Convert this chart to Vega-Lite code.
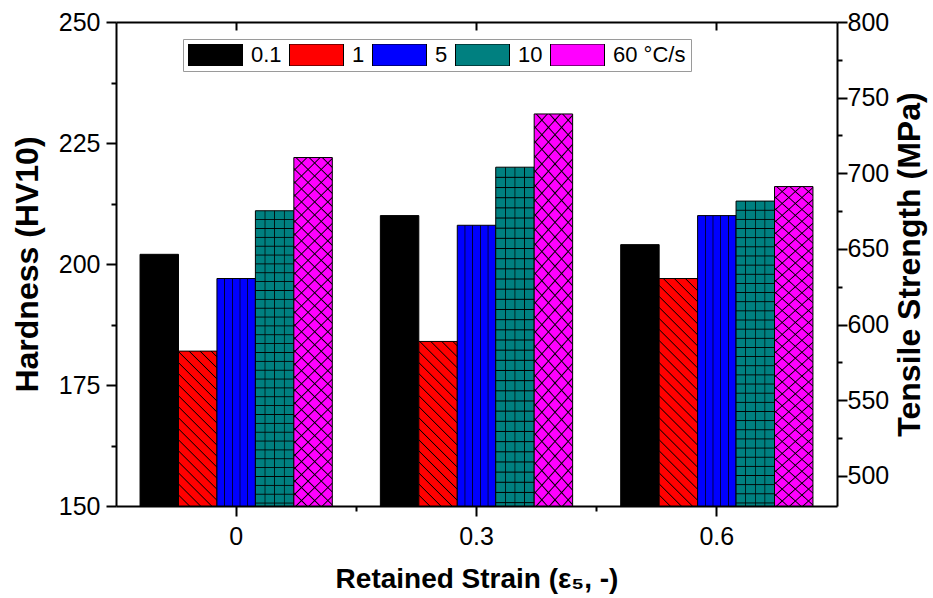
{
"$schema":"https://vega.github.io/schema/vega-lite/v6.json",
"width":721,"height":484,
"autosize":{"type":"none"},
"padding":{"left":116,"top":22,"right":96,"bottom":92},
"background":"white",
"config":{"view":{"stroke":null},"axis":{"grid":false,"labelFont":"Liberation Sans","labelFontSize":25,"labelColor":"#000","titleFont":"Liberation Sans","titleFontSize":32,"titleFontWeight":"bold","titleColor":"#000","domainColor":"#000","domainWidth":2,"tickColor":"#000","tickWidth":2}},
"data":{"values":[
{"strain":"0","rate":"0.1","hv":202},{"strain":"0","rate":"1","hv":182},{"strain":"0","rate":"5","hv":197},{"strain":"0","rate":"10","hv":211},{"strain":"0","rate":"60 °C/s","hv":222},
{"strain":"0.3","rate":"0.1","hv":210},{"strain":"0.3","rate":"1","hv":184},{"strain":"0.3","rate":"5","hv":208},{"strain":"0.3","rate":"10","hv":220},{"strain":"0.3","rate":"60 °C/s","hv":231},
{"strain":"0.6","rate":"0.1","hv":204},{"strain":"0.6","rate":"1","hv":197},{"strain":"0.6","rate":"5","hv":210},{"strain":"0.6","rate":"10","hv":213},{"strain":"0.6","rate":"60 °C/s","hv":216}
]},
"layer":[
{
"encoding":{
"x":{"field":"strain","type":"nominal","sort":["0","0.3","0.6"],"scale":{"paddingInner":0.2,"paddingOuter":0.1},"axis":{"title":"Retained Strain (ε₅, -)","labelAngle":0,"tickSize":10,"labelPadding":8,"titleFontSize":28,"titlePadding":16}},
"xOffset":{"field":"rate","type":"nominal","sort":["0.1","1","5","10","60 °C/s"],"scale":{"domain":["0.1","1","5","10","60 °C/s"]}},
"y":{"field":"hv","type":"quantitative","scale":{"domain":[150,250]},"axis":{"title":"Hardness (HV10)","values":[150,162.5,175,187.5,200,212.5,225,237.5,250],"labelExpr":"datum.value % 25 === 0 ? datum.label : ''","tickSize":{"condition":{"test":"datum.value % 25 === 0","value":10},"value":5},"labelPadding":6,"titlePadding":14}},
"y2":{"datum":150}
},
"layer":[
{"mark":{"type":"bar","stroke":"#000","strokeWidth":1},
"encoding":{"color":{"field":"rate","type":"nominal","sort":["0.1","1","5","10","60 °C/s"],"scale":{"domain":["0.1","1","5","10","60 °C/s"],"range":["#000000","#ff0000","#0000ff","#008080","#ff00ff"]},
"legend":{"orient":"none","legendX":67,"legendY":17,"direction":"horizontal","title":null,"symbolType":"M-1,-0.4074L1,-0.4074L1,0.4074L-1,0.4074Z","symbolSize":2916,"symbolStrokeColor":"#000","symbolStrokeWidth":1,"symbolOpacity":1,"symbolOffset":0,"clipHeight":22,"labelFont":"Liberation Sans","labelFontSize":22,"labelColor":"#000","labelOffset":8,"columnPadding":7,"padding":5,"strokeColor":"#9a9a9a","fillColor":"#ffffff"}}}},
{"transform":[{"filter":"datum.rate === '5'"}],
"mark":{"type":"bar","fill":{"gradient":"linear","x1":0,"y1":0,"x2":1,"y2":0,"stops":[{"offset":0.18,"color":"#0000"},{"offset":0.2,"color":"#000"},{"offset":0.22,"color":"#0000"},{"offset":0.38,"color":"#0000"},{"offset":0.4,"color":"#000"},{"offset":0.42,"color":"#0000"},{"offset":0.58,"color":"#0000"},{"offset":0.6,"color":"#000"},{"offset":0.62,"color":"#0000"},{"offset":0.78,"color":"#0000"},{"offset":0.8,"color":"#000"},{"offset":0.82,"color":"#0000"}]}}},
{"transform":[{"filter":"datum.rate === '10'"}],
"mark":{"type":"bar","fill":{"gradient":"linear","x1":0,"y1":0,"x2":1,"y2":0,"stops":[{"offset":0.23,"color":"#0000"},{"offset":0.25,"color":"#000"},{"offset":0.27,"color":"#0000"},{"offset":0.48,"color":"#0000"},{"offset":0.5,"color":"#000"},{"offset":0.52,"color":"#0000"},{"offset":0.73,"color":"#0000"},{"offset":0.75,"color":"#000"},{"offset":0.77,"color":"#0000"}]}}},
{"transform":[{"filter":"datum.rate === '10'"}],
"mark":{"type":"bar","fill":{"gradient":"linear","x1":0,"y1":0,"x2":0,"y2":1,"stops":[
{"offset":0.027,"color":"#0000"},{"offset":0.03,"color":"#000"},{"offset":0.033,"color":"#0000"},
{"offset":0.057,"color":"#0000"},{"offset":0.06,"color":"#000"},{"offset":0.063,"color":"#0000"},
{"offset":0.087,"color":"#0000"},{"offset":0.09,"color":"#000"},{"offset":0.093,"color":"#0000"},
{"offset":0.117,"color":"#0000"},{"offset":0.12,"color":"#000"},{"offset":0.123,"color":"#0000"},
{"offset":0.147,"color":"#0000"},{"offset":0.15,"color":"#000"},{"offset":0.153,"color":"#0000"},
{"offset":0.177,"color":"#0000"},{"offset":0.18,"color":"#000"},{"offset":0.183,"color":"#0000"},
{"offset":0.207,"color":"#0000"},{"offset":0.21,"color":"#000"},{"offset":0.213,"color":"#0000"},
{"offset":0.237,"color":"#0000"},{"offset":0.24,"color":"#000"},{"offset":0.243,"color":"#0000"},
{"offset":0.267,"color":"#0000"},{"offset":0.27,"color":"#000"},{"offset":0.273,"color":"#0000"},
{"offset":0.297,"color":"#0000"},{"offset":0.3,"color":"#000"},{"offset":0.303,"color":"#0000"},
{"offset":0.327,"color":"#0000"},{"offset":0.33,"color":"#000"},{"offset":0.333,"color":"#0000"},
{"offset":0.357,"color":"#0000"},{"offset":0.36,"color":"#000"},{"offset":0.363,"color":"#0000"},
{"offset":0.387,"color":"#0000"},{"offset":0.39,"color":"#000"},{"offset":0.393,"color":"#0000"},
{"offset":0.417,"color":"#0000"},{"offset":0.42,"color":"#000"},{"offset":0.423,"color":"#0000"},
{"offset":0.447,"color":"#0000"},{"offset":0.45,"color":"#000"},{"offset":0.453,"color":"#0000"},
{"offset":0.477,"color":"#0000"},{"offset":0.48,"color":"#000"},{"offset":0.483,"color":"#0000"},
{"offset":0.507,"color":"#0000"},{"offset":0.51,"color":"#000"},{"offset":0.513,"color":"#0000"},
{"offset":0.537,"color":"#0000"},{"offset":0.54,"color":"#000"},{"offset":0.543,"color":"#0000"},
{"offset":0.567,"color":"#0000"},{"offset":0.57,"color":"#000"},{"offset":0.573,"color":"#0000"},
{"offset":0.597,"color":"#0000"},{"offset":0.6,"color":"#000"},{"offset":0.603,"color":"#0000"},
{"offset":0.627,"color":"#0000"},{"offset":0.63,"color":"#000"},{"offset":0.633,"color":"#0000"},
{"offset":0.657,"color":"#0000"},{"offset":0.66,"color":"#000"},{"offset":0.663,"color":"#0000"},
{"offset":0.687,"color":"#0000"},{"offset":0.69,"color":"#000"},{"offset":0.693,"color":"#0000"},
{"offset":0.717,"color":"#0000"},{"offset":0.72,"color":"#000"},{"offset":0.723,"color":"#0000"},
{"offset":0.747,"color":"#0000"},{"offset":0.75,"color":"#000"},{"offset":0.753,"color":"#0000"},
{"offset":0.777,"color":"#0000"},{"offset":0.78,"color":"#000"},{"offset":0.783,"color":"#0000"},
{"offset":0.807,"color":"#0000"},{"offset":0.81,"color":"#000"},{"offset":0.813,"color":"#0000"},
{"offset":0.837,"color":"#0000"},{"offset":0.84,"color":"#000"},{"offset":0.843,"color":"#0000"},
{"offset":0.867,"color":"#0000"},{"offset":0.87,"color":"#000"},{"offset":0.873,"color":"#0000"},
{"offset":0.897,"color":"#0000"},{"offset":0.9,"color":"#000"},{"offset":0.903,"color":"#0000"},
{"offset":0.927,"color":"#0000"},{"offset":0.93,"color":"#000"},{"offset":0.933,"color":"#0000"},
{"offset":0.957,"color":"#0000"},{"offset":0.96,"color":"#000"},{"offset":0.963,"color":"#0000"},
{"offset":0.987,"color":"#0000"},{"offset":0.99,"color":"#000"},{"offset":0.993,"color":"#0000"}]}}},
{"transform":[{"filter":"datum.rate === '1'"}],
"mark":{"type":"bar"},
"encoding":{"fill":{"condition":[
{"test":"datum.strain === '0'","value":{"gradient":"linear","x1":0,"y1":1,"x2":0.4158,"y2":-0.6774,"stops":[
{"offset":0.036,"color":"#0000"},{"offset":0.04,"color":"#000"},{"offset":0.044,"color":"#0000"},
{"offset":0.076,"color":"#0000"},{"offset":0.08,"color":"#000"},{"offset":0.084,"color":"#0000"},
{"offset":0.116,"color":"#0000"},{"offset":0.12,"color":"#000"},{"offset":0.124,"color":"#0000"},
{"offset":0.156,"color":"#0000"},{"offset":0.16,"color":"#000"},{"offset":0.164,"color":"#0000"},
{"offset":0.196,"color":"#0000"},{"offset":0.2,"color":"#000"},{"offset":0.204,"color":"#0000"},
{"offset":0.236,"color":"#0000"},{"offset":0.24,"color":"#000"},{"offset":0.244,"color":"#0000"},
{"offset":0.276,"color":"#0000"},{"offset":0.28,"color":"#000"},{"offset":0.284,"color":"#0000"},
{"offset":0.316,"color":"#0000"},{"offset":0.32,"color":"#000"},{"offset":0.324,"color":"#0000"},
{"offset":0.356,"color":"#0000"},{"offset":0.36,"color":"#000"},{"offset":0.364,"color":"#0000"},
{"offset":0.396,"color":"#0000"},{"offset":0.4,"color":"#000"},{"offset":0.404,"color":"#0000"},
{"offset":0.436,"color":"#0000"},{"offset":0.44,"color":"#000"},{"offset":0.444,"color":"#0000"},
{"offset":0.476,"color":"#0000"},{"offset":0.48,"color":"#000"},{"offset":0.484,"color":"#0000"},
{"offset":0.516,"color":"#0000"},{"offset":0.52,"color":"#000"},{"offset":0.524,"color":"#0000"},
{"offset":0.556,"color":"#0000"},{"offset":0.56,"color":"#000"},{"offset":0.564,"color":"#0000"},
{"offset":0.596,"color":"#0000"},{"offset":0.6,"color":"#000"},{"offset":0.604,"color":"#0000"},
{"offset":0.636,"color":"#0000"},{"offset":0.64,"color":"#000"},{"offset":0.644,"color":"#0000"},
{"offset":0.676,"color":"#0000"},{"offset":0.68,"color":"#000"},{"offset":0.684,"color":"#0000"},
{"offset":0.716,"color":"#0000"},{"offset":0.72,"color":"#000"},{"offset":0.724,"color":"#0000"},
{"offset":0.756,"color":"#0000"},{"offset":0.76,"color":"#000"},{"offset":0.764,"color":"#0000"},
{"offset":0.796,"color":"#0000"},{"offset":0.8,"color":"#000"},{"offset":0.804,"color":"#0000"},
{"offset":0.836,"color":"#0000"},{"offset":0.84,"color":"#000"},{"offset":0.844,"color":"#0000"},
{"offset":0.876,"color":"#0000"},{"offset":0.88,"color":"#000"},{"offset":0.884,"color":"#0000"},
{"offset":0.916,"color":"#0000"},{"offset":0.92,"color":"#000"},{"offset":0.924,"color":"#0000"},
{"offset":0.956,"color":"#0000"},{"offset":0.96,"color":"#000"},{"offset":0.964,"color":"#0000"}]}},
{"test":"datum.strain === '0.3'","value":{"gradient":"linear","x1":0,"y1":1,"x2":0.3707,"y2":-0.5891,"stops":[
{"offset":0.036,"color":"#0000"},{"offset":0.04,"color":"#000"},{"offset":0.044,"color":"#0000"},
{"offset":0.076,"color":"#0000"},{"offset":0.08,"color":"#000"},{"offset":0.084,"color":"#0000"},
{"offset":0.116,"color":"#0000"},{"offset":0.12,"color":"#000"},{"offset":0.124,"color":"#0000"},
{"offset":0.156,"color":"#0000"},{"offset":0.16,"color":"#000"},{"offset":0.164,"color":"#0000"},
{"offset":0.196,"color":"#0000"},{"offset":0.2,"color":"#000"},{"offset":0.204,"color":"#0000"},
{"offset":0.236,"color":"#0000"},{"offset":0.24,"color":"#000"},{"offset":0.244,"color":"#0000"},
{"offset":0.276,"color":"#0000"},{"offset":0.28,"color":"#000"},{"offset":0.284,"color":"#0000"},
{"offset":0.316,"color":"#0000"},{"offset":0.32,"color":"#000"},{"offset":0.324,"color":"#0000"},
{"offset":0.356,"color":"#0000"},{"offset":0.36,"color":"#000"},{"offset":0.364,"color":"#0000"},
{"offset":0.396,"color":"#0000"},{"offset":0.4,"color":"#000"},{"offset":0.404,"color":"#0000"},
{"offset":0.436,"color":"#0000"},{"offset":0.44,"color":"#000"},{"offset":0.444,"color":"#0000"},
{"offset":0.476,"color":"#0000"},{"offset":0.48,"color":"#000"},{"offset":0.484,"color":"#0000"},
{"offset":0.516,"color":"#0000"},{"offset":0.52,"color":"#000"},{"offset":0.524,"color":"#0000"},
{"offset":0.556,"color":"#0000"},{"offset":0.56,"color":"#000"},{"offset":0.564,"color":"#0000"},
{"offset":0.596,"color":"#0000"},{"offset":0.6,"color":"#000"},{"offset":0.604,"color":"#0000"},
{"offset":0.636,"color":"#0000"},{"offset":0.64,"color":"#000"},{"offset":0.644,"color":"#0000"},
{"offset":0.676,"color":"#0000"},{"offset":0.68,"color":"#000"},{"offset":0.684,"color":"#0000"},
{"offset":0.716,"color":"#0000"},{"offset":0.72,"color":"#000"},{"offset":0.724,"color":"#0000"},
{"offset":0.756,"color":"#0000"},{"offset":0.76,"color":"#000"},{"offset":0.764,"color":"#0000"},
{"offset":0.796,"color":"#0000"},{"offset":0.8,"color":"#000"},{"offset":0.804,"color":"#0000"},
{"offset":0.836,"color":"#0000"},{"offset":0.84,"color":"#000"},{"offset":0.844,"color":"#0000"},
{"offset":0.876,"color":"#0000"},{"offset":0.88,"color":"#000"},{"offset":0.884,"color":"#0000"},
{"offset":0.916,"color":"#0000"},{"offset":0.92,"color":"#000"},{"offset":0.924,"color":"#0000"},
{"offset":0.956,"color":"#0000"},{"offset":0.96,"color":"#000"},{"offset":0.964,"color":"#0000"}]}}],
"value":{"gradient":"linear","x1":0,"y1":1,"x2":0.199,"y2":-0.1787,"stops":[
{"offset":0.036,"color":"#0000"},{"offset":0.04,"color":"#000"},{"offset":0.044,"color":"#0000"},
{"offset":0.076,"color":"#0000"},{"offset":0.08,"color":"#000"},{"offset":0.084,"color":"#0000"},
{"offset":0.116,"color":"#0000"},{"offset":0.12,"color":"#000"},{"offset":0.124,"color":"#0000"},
{"offset":0.156,"color":"#0000"},{"offset":0.16,"color":"#000"},{"offset":0.164,"color":"#0000"},
{"offset":0.196,"color":"#0000"},{"offset":0.2,"color":"#000"},{"offset":0.204,"color":"#0000"},
{"offset":0.236,"color":"#0000"},{"offset":0.24,"color":"#000"},{"offset":0.244,"color":"#0000"},
{"offset":0.276,"color":"#0000"},{"offset":0.28,"color":"#000"},{"offset":0.284,"color":"#0000"},
{"offset":0.316,"color":"#0000"},{"offset":0.32,"color":"#000"},{"offset":0.324,"color":"#0000"},
{"offset":0.356,"color":"#0000"},{"offset":0.36,"color":"#000"},{"offset":0.364,"color":"#0000"},
{"offset":0.396,"color":"#0000"},{"offset":0.4,"color":"#000"},{"offset":0.404,"color":"#0000"},
{"offset":0.436,"color":"#0000"},{"offset":0.44,"color":"#000"},{"offset":0.444,"color":"#0000"},
{"offset":0.476,"color":"#0000"},{"offset":0.48,"color":"#000"},{"offset":0.484,"color":"#0000"},
{"offset":0.516,"color":"#0000"},{"offset":0.52,"color":"#000"},{"offset":0.524,"color":"#0000"},
{"offset":0.556,"color":"#0000"},{"offset":0.56,"color":"#000"},{"offset":0.564,"color":"#0000"},
{"offset":0.596,"color":"#0000"},{"offset":0.6,"color":"#000"},{"offset":0.604,"color":"#0000"},
{"offset":0.636,"color":"#0000"},{"offset":0.64,"color":"#000"},{"offset":0.644,"color":"#0000"},
{"offset":0.676,"color":"#0000"},{"offset":0.68,"color":"#000"},{"offset":0.684,"color":"#0000"},
{"offset":0.716,"color":"#0000"},{"offset":0.72,"color":"#000"},{"offset":0.724,"color":"#0000"},
{"offset":0.756,"color":"#0000"},{"offset":0.76,"color":"#000"},{"offset":0.764,"color":"#0000"},
{"offset":0.796,"color":"#0000"},{"offset":0.8,"color":"#000"},{"offset":0.804,"color":"#0000"},
{"offset":0.836,"color":"#0000"},{"offset":0.84,"color":"#000"},{"offset":0.844,"color":"#0000"},
{"offset":0.876,"color":"#0000"},{"offset":0.88,"color":"#000"},{"offset":0.884,"color":"#0000"},
{"offset":0.916,"color":"#0000"},{"offset":0.92,"color":"#000"},{"offset":0.924,"color":"#0000"},
{"offset":0.956,"color":"#0000"},{"offset":0.96,"color":"#000"},{"offset":0.964,"color":"#0000"}]}}}},
{"transform":[{"filter":"datum.rate === '60 °C/s'"}],
"mark":{"type":"bar","fill":{"gradient":"linear","x1":0,"y1":1,"x2":0.1335,"y2":-0.2274,"stops":[
{"offset":0.027,"color":"#0000"},{"offset":0.03,"color":"#000"},{"offset":0.033,"color":"#0000"},
{"offset":0.057,"color":"#0000"},{"offset":0.06,"color":"#000"},{"offset":0.063,"color":"#0000"},
{"offset":0.087,"color":"#0000"},{"offset":0.09,"color":"#000"},{"offset":0.093,"color":"#0000"},
{"offset":0.117,"color":"#0000"},{"offset":0.12,"color":"#000"},{"offset":0.123,"color":"#0000"},
{"offset":0.147,"color":"#0000"},{"offset":0.15,"color":"#000"},{"offset":0.153,"color":"#0000"},
{"offset":0.177,"color":"#0000"},{"offset":0.18,"color":"#000"},{"offset":0.183,"color":"#0000"},
{"offset":0.207,"color":"#0000"},{"offset":0.21,"color":"#000"},{"offset":0.213,"color":"#0000"},
{"offset":0.237,"color":"#0000"},{"offset":0.24,"color":"#000"},{"offset":0.243,"color":"#0000"},
{"offset":0.267,"color":"#0000"},{"offset":0.27,"color":"#000"},{"offset":0.273,"color":"#0000"},
{"offset":0.297,"color":"#0000"},{"offset":0.3,"color":"#000"},{"offset":0.303,"color":"#0000"},
{"offset":0.327,"color":"#0000"},{"offset":0.33,"color":"#000"},{"offset":0.333,"color":"#0000"},
{"offset":0.357,"color":"#0000"},{"offset":0.36,"color":"#000"},{"offset":0.363,"color":"#0000"},
{"offset":0.387,"color":"#0000"},{"offset":0.39,"color":"#000"},{"offset":0.393,"color":"#0000"},
{"offset":0.417,"color":"#0000"},{"offset":0.42,"color":"#000"},{"offset":0.423,"color":"#0000"},
{"offset":0.447,"color":"#0000"},{"offset":0.45,"color":"#000"},{"offset":0.453,"color":"#0000"},
{"offset":0.477,"color":"#0000"},{"offset":0.48,"color":"#000"},{"offset":0.483,"color":"#0000"},
{"offset":0.507,"color":"#0000"},{"offset":0.51,"color":"#000"},{"offset":0.513,"color":"#0000"},
{"offset":0.537,"color":"#0000"},{"offset":0.54,"color":"#000"},{"offset":0.543,"color":"#0000"},
{"offset":0.567,"color":"#0000"},{"offset":0.57,"color":"#000"},{"offset":0.573,"color":"#0000"},
{"offset":0.597,"color":"#0000"},{"offset":0.6,"color":"#000"},{"offset":0.603,"color":"#0000"},
{"offset":0.627,"color":"#0000"},{"offset":0.63,"color":"#000"},{"offset":0.633,"color":"#0000"},
{"offset":0.657,"color":"#0000"},{"offset":0.66,"color":"#000"},{"offset":0.663,"color":"#0000"},
{"offset":0.687,"color":"#0000"},{"offset":0.69,"color":"#000"},{"offset":0.693,"color":"#0000"},
{"offset":0.717,"color":"#0000"},{"offset":0.72,"color":"#000"},{"offset":0.723,"color":"#0000"},
{"offset":0.747,"color":"#0000"},{"offset":0.75,"color":"#000"},{"offset":0.753,"color":"#0000"},
{"offset":0.777,"color":"#0000"},{"offset":0.78,"color":"#000"},{"offset":0.783,"color":"#0000"},
{"offset":0.807,"color":"#0000"},{"offset":0.81,"color":"#000"},{"offset":0.813,"color":"#0000"},
{"offset":0.837,"color":"#0000"},{"offset":0.84,"color":"#000"},{"offset":0.843,"color":"#0000"},
{"offset":0.867,"color":"#0000"},{"offset":0.87,"color":"#000"},{"offset":0.873,"color":"#0000"},
{"offset":0.897,"color":"#0000"},{"offset":0.9,"color":"#000"},{"offset":0.903,"color":"#0000"},
{"offset":0.927,"color":"#0000"},{"offset":0.93,"color":"#000"},{"offset":0.933,"color":"#0000"},
{"offset":0.957,"color":"#0000"},{"offset":0.96,"color":"#000"},{"offset":0.963,"color":"#0000"},
{"offset":0.987,"color":"#0000"},{"offset":0.99,"color":"#000"},{"offset":0.993,"color":"#0000"}]}}},
{"transform":[{"filter":"datum.rate === '60 °C/s'"}],
"mark":{"type":"bar","fill":{"gradient":"linear","x1":0,"y1":0,"x2":0.1335,"y2":1.2274,"stops":[
{"offset":0.027,"color":"#0000"},{"offset":0.03,"color":"#000"},{"offset":0.033,"color":"#0000"},
{"offset":0.057,"color":"#0000"},{"offset":0.06,"color":"#000"},{"offset":0.063,"color":"#0000"},
{"offset":0.087,"color":"#0000"},{"offset":0.09,"color":"#000"},{"offset":0.093,"color":"#0000"},
{"offset":0.117,"color":"#0000"},{"offset":0.12,"color":"#000"},{"offset":0.123,"color":"#0000"},
{"offset":0.147,"color":"#0000"},{"offset":0.15,"color":"#000"},{"offset":0.153,"color":"#0000"},
{"offset":0.177,"color":"#0000"},{"offset":0.18,"color":"#000"},{"offset":0.183,"color":"#0000"},
{"offset":0.207,"color":"#0000"},{"offset":0.21,"color":"#000"},{"offset":0.213,"color":"#0000"},
{"offset":0.237,"color":"#0000"},{"offset":0.24,"color":"#000"},{"offset":0.243,"color":"#0000"},
{"offset":0.267,"color":"#0000"},{"offset":0.27,"color":"#000"},{"offset":0.273,"color":"#0000"},
{"offset":0.297,"color":"#0000"},{"offset":0.3,"color":"#000"},{"offset":0.303,"color":"#0000"},
{"offset":0.327,"color":"#0000"},{"offset":0.33,"color":"#000"},{"offset":0.333,"color":"#0000"},
{"offset":0.357,"color":"#0000"},{"offset":0.36,"color":"#000"},{"offset":0.363,"color":"#0000"},
{"offset":0.387,"color":"#0000"},{"offset":0.39,"color":"#000"},{"offset":0.393,"color":"#0000"},
{"offset":0.417,"color":"#0000"},{"offset":0.42,"color":"#000"},{"offset":0.423,"color":"#0000"},
{"offset":0.447,"color":"#0000"},{"offset":0.45,"color":"#000"},{"offset":0.453,"color":"#0000"},
{"offset":0.477,"color":"#0000"},{"offset":0.48,"color":"#000"},{"offset":0.483,"color":"#0000"},
{"offset":0.507,"color":"#0000"},{"offset":0.51,"color":"#000"},{"offset":0.513,"color":"#0000"},
{"offset":0.537,"color":"#0000"},{"offset":0.54,"color":"#000"},{"offset":0.543,"color":"#0000"},
{"offset":0.567,"color":"#0000"},{"offset":0.57,"color":"#000"},{"offset":0.573,"color":"#0000"},
{"offset":0.597,"color":"#0000"},{"offset":0.6,"color":"#000"},{"offset":0.603,"color":"#0000"},
{"offset":0.627,"color":"#0000"},{"offset":0.63,"color":"#000"},{"offset":0.633,"color":"#0000"},
{"offset":0.657,"color":"#0000"},{"offset":0.66,"color":"#000"},{"offset":0.663,"color":"#0000"},
{"offset":0.687,"color":"#0000"},{"offset":0.69,"color":"#000"},{"offset":0.693,"color":"#0000"},
{"offset":0.717,"color":"#0000"},{"offset":0.72,"color":"#000"},{"offset":0.723,"color":"#0000"},
{"offset":0.747,"color":"#0000"},{"offset":0.75,"color":"#000"},{"offset":0.753,"color":"#0000"},
{"offset":0.777,"color":"#0000"},{"offset":0.78,"color":"#000"},{"offset":0.783,"color":"#0000"},
{"offset":0.807,"color":"#0000"},{"offset":0.81,"color":"#000"},{"offset":0.813,"color":"#0000"},
{"offset":0.837,"color":"#0000"},{"offset":0.84,"color":"#000"},{"offset":0.843,"color":"#0000"},
{"offset":0.867,"color":"#0000"},{"offset":0.87,"color":"#000"},{"offset":0.873,"color":"#0000"},
{"offset":0.897,"color":"#0000"},{"offset":0.9,"color":"#000"},{"offset":0.903,"color":"#0000"},
{"offset":0.927,"color":"#0000"},{"offset":0.93,"color":"#000"},{"offset":0.933,"color":"#0000"},
{"offset":0.957,"color":"#0000"},{"offset":0.96,"color":"#000"},{"offset":0.963,"color":"#0000"},
{"offset":0.987,"color":"#0000"},{"offset":0.99,"color":"#000"},{"offset":0.993,"color":"#0000"}]}}}
]
},
{"mark":{"type":"point","opacity":0},
"encoding":{
"x":{"field":"strain","type":"nominal","sort":["0","0.3","0.6"],"scale":{"paddingInner":0.2,"paddingOuter":0.1},"axis":{"orient":"bottom","values":["0","0.3"],"bandPosition":1.125,"tickSize":5,"labels":false,"domain":false,"title":null}},
"y":{"datum":480,"type":"quantitative","scale":{"domain":[480,800]},"axis":{"orient":"right","title":"Tensile Strength (MPa)","values":[500,525,550,575,600,625,650,675,700,725,750,775,800],"labelExpr":"datum.value % 50 === 0 ? datum.label : ''","tickSize":{"condition":{"test":"datum.value % 50 === 0","value":10},"value":5},"labelPadding":0,"titleAngle":270,"titleBaseline":"top","titlePadding":6}}
}},
{"mark":{"type":"point","opacity":0},
"encoding":{
"x":{"field":"strain","type":"nominal","sort":["0","0.3","0.6"],"scale":{"paddingInner":0.2,"paddingOuter":0.1},"axis":{"orient":"top","labels":false,"title":null,"tickSize":-8,"domain":true}}
}}
],
"resolve":{"scale":{"y":"independent"},"axis":{"x":"independent","y":"independent"}}
}
